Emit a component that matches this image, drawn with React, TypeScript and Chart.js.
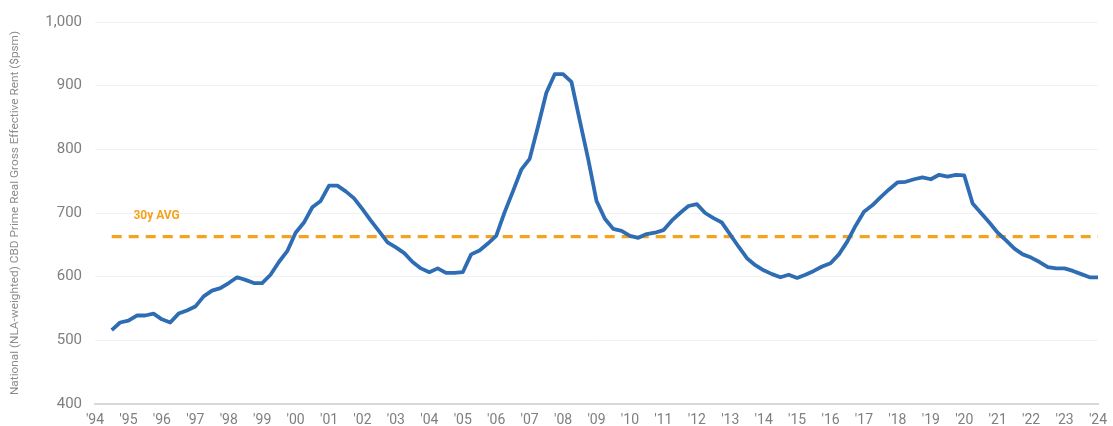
import React, { useEffect, useRef } from "react";
import { Chart, registerables } from "chart.js";

Chart.register(...registerables);

// Quarterly observations from 1994.5 (Q3 1994) to 2024.0
const START_YEAR = 1994.5;
const STEP = 0.25;
const rentValues: number[] = [
  516, 528, 531, 539, 539, 542, 533, 528, 542, 547,
  553, 569, 578, 582, 590, 599, 595, 590, 590, 603,
  623, 640, 669, 685, 709, 719, 743, 743, 734, 723,
  706, 688, 671, 654, 646, 637, 623, 613, 607, 613,
  606, 606, 607, 635, 641, 652, 664, 701, 734, 768,
  785, 836, 889, 918, 918, 906, 845, 785, 719, 691,
  675, 672, 664, 661, 667, 669, 673, 688, 700, 711,
  714, 700, 692, 685, 666, 647, 629, 618, 610, 604,
  599, 603, 598, 603, 609, 616, 621, 635, 655, 680,
  702, 712, 725, 737, 748, 749, 753, 756, 753, 760,
  757, 760, 759, 715, 700, 685, 669, 657, 644, 635,
  630, 623, 615, 613, 613, 609, 604, 599, 599,
];
const quarterYears: number[] = rentValues.map((_, i) => START_YEAR + i * STEP);

const AVG_VALUE = 663;
const AVG_LABEL = "30y AVG";
const AVG_LABEL_X = 1995.15;
const AVG_LABEL_Y = 695;

const X_MIN = 1994;
const X_MAX = 2024;
const Y_MIN = 400;
const Y_MAX = 1000;
const Y_STEP = 100;
const Y_TITLE = "National (NLA-weighted) CBD Prime Real Gross Effective Rent ($psm)";

const BLUE = "#2E6DB4";
const ORANGE = "#F5A21E";
const FONT = "Roboto, 'DejaVu Sans', sans-serif";

const avgLabelPlugin = {
  id: "avgLabel",
  afterDatasetsDraw(chart: any) {
    const { ctx, scales } = chart;
    const x = scales.x.getPixelForValue(AVG_LABEL_X);
    const y = scales.y.getPixelForValue(AVG_LABEL_Y);
    ctx.save();
    ctx.fillStyle = ORANGE;
    ctx.font = `bold 12px ${FONT}`;
    ctx.textAlign = "left";
    ctx.textBaseline = "middle";
    ctx.fillText(AVG_LABEL, x, y);
    ctx.restore();
  },
};

export default function App() {
  const canvasRef = useRef<HTMLCanvasElement | null>(null);

  useEffect(() => {
    document.body.style.margin = "0";
    const canvas = canvasRef.current;
    if (!canvas) return;
    const chart = new Chart(canvas, {
      type: "line",
      data: {
        datasets: [
          {
            label: "Rent",
            data: quarterYears.map((x, i) => ({ x, y: rentValues[i] })),
            borderColor: BLUE,
            borderWidth: 3.8,
            pointRadius: 0,
            tension: 0,
            fill: false,
            borderJoinStyle: "round",
          },
          {
            label: AVG_LABEL,
            data: [
              { x: quarterYears[0], y: AVG_VALUE },
              { x: quarterYears[quarterYears.length - 1], y: AVG_VALUE },
            ],
            borderColor: ORANGE,
            borderWidth: 3.2,
            borderDash: [10, 7],
            pointRadius: 0,
            fill: false,
          },
        ],
      },
      options: {
        animation: false,
        responsive: false,
        maintainAspectRatio: false,
        layout: { padding: { top: 18, right: 15, left: 0, bottom: 0 } },
        plugins: {
          legend: { display: false },
          tooltip: { enabled: false },
        },
        scales: {
          x: {
            type: "linear",
            min: X_MIN,
            max: X_MAX,
            grid: { display: false, drawTicks: false },
            border: { display: true, color: "#D9D9D9", width: 2 },
            ticks: {
              stepSize: 1,
              autoSkip: false,
              maxRotation: 0,
              padding: 8,
              color: "#7F7F7F",
              font: { family: FONT, size: 14 },
              callback: (v: any) => "'" + String(Math.round(Number(v)) % 100).padStart(2, "0"),
            },
            afterFit: (s: any) => {
              s.height = 20;
              s.paddingRight = 0;
              s.paddingBottom = 0;
            },
          },
          y: {
            min: Y_MIN,
            max: Y_MAX,
            grid: { color: "#F2F2F2", lineWidth: 1, drawTicks: false },
            border: { display: false },
            ticks: {
              stepSize: Y_STEP,
              padding: 13,
              color: "#7F7F7F",
              font: { family: FONT, size: 15 },
              callback: (v: any) => Number(v).toLocaleString("en-US"),
            },
            title: {
              display: true,
              text: Y_TITLE,
              color: "#8C8C8C",
              font: { family: FONT, size: 11.8 },
              padding: { top: 8, bottom: 0 },
            },
            afterFit: (s: any) => {
              s.width = 95;
            },
          },
        },
      },
      plugins: [avgLabelPlugin],
    });
    return () => chart.destroy();
  }, []);

  return (
    <div style={{ width: 1113, height: 426 }}>
      <canvas ref={canvasRef} width={1113} height={426} style={{ display: "block" }} />
    </div>
  );
}
